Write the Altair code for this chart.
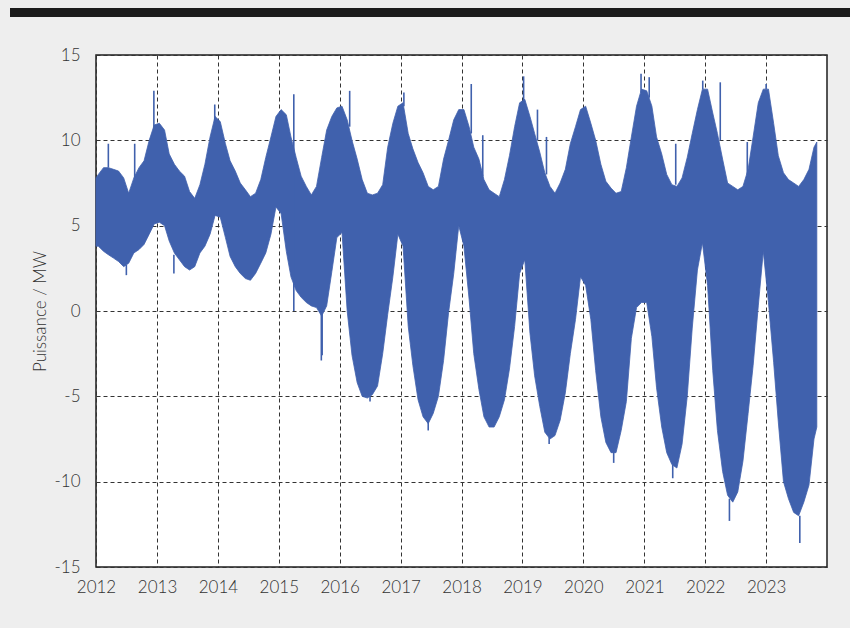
import altair as alt
import pandas as pd

# ---------------- data (MW) ----------------
# monthly envelope of the signal (value around the 15th of each month)
up_2012 = [8.0, 8.4, 8.4, 8.3, 8.2, 7.8, 6.9, 7.8, 8.4, 8.8, 10.0, 10.9]
lo_2012 = [3.8, 3.5, 3.3, 3.1, 2.9, 2.6, 2.8, 3.4, 3.6, 3.9, 4.5, 5.1]
up_2013 = [11.0, 10.6, 9.2, 8.6, 8.2, 7.9, 7.0, 6.6, 7.4, 8.6, 10.2, 11.4]
lo_2013 = [5.2, 5.0, 4.1, 3.4, 3.0, 2.6, 2.4, 2.6, 3.4, 3.8, 4.5, 5.6]
up_2014 = [11.1, 9.8, 8.8, 8.2, 7.5, 7.1, 6.7, 6.9, 7.7, 9.0, 10.2, 11.4]
lo_2014 = [5.5, 4.3, 3.2, 2.6, 2.2, 1.9, 1.8, 2.2, 2.8, 3.4, 4.5, 6.1]
up_2015 = [11.8, 11.5, 10.2, 9.0, 7.9, 7.3, 6.8, 7.3, 9.0, 10.6, 11.4, 11.9]
lo_2015 = [5.7, 3.5, 2.0, 1.2, 0.8, 0.5, 0.3, 0.2, -0.3, 0.3, 2.3, 4.3]
up_2016 = [12.0, 11.2, 10.0, 8.9, 7.7, 6.9, 6.8, 6.9, 7.4, 9.6, 11.0, 12.0]
lo_2016 = [4.6, 0.0, -2.6, -4.2, -5.0, -5.1, -4.9, -4.4, -2.5, -0.2, 2.0, 4.5]
up_2017 = [12.2, 10.4, 9.5, 8.7, 8.1, 7.3, 7.1, 7.3, 8.9, 10.0, 11.2, 11.8]
lo_2017 = [3.8, -0.9, -3.2, -5.2, -6.2, -6.6, -6.0, -5.0, -2.9, -0.1, 2.2, 5.0]
up_2018 = [11.8, 10.8, 9.6, 8.9, 7.7, 7.1, 6.9, 6.7, 7.7, 9.1, 10.8, 12.2]
lo_2018 = [3.8, 0.7, -2.5, -4.6, -6.2, -6.8, -6.8, -6.2, -5.2, -3.4, -0.9, 2.2]
up_2019 = [12.4, 11.4, 10.4, 9.3, 8.1, 7.3, 6.9, 7.5, 8.3, 9.8, 10.8, 11.8]
lo_2019 = [3.0, -1.3, -3.8, -5.6, -7.1, -7.5, -7.3, -6.4, -4.8, -2.5, -0.5, 2.0]
up_2020 = [12.0, 11.0, 10.0, 8.6, 7.6, 7.2, 6.9, 7.0, 8.4, 10.2, 12.0, 13.0]
lo_2020 = [1.5, -0.5, -3.5, -6.2, -7.7, -8.3, -8.3, -7.0, -5.3, -1.6, 0.2, 0.5]
up_2021 = [12.9, 12.0, 10.2, 9.2, 8.0, 7.4, 7.3, 7.8, 9.0, 10.4, 11.8, 13.0]
lo_2021 = [0.5, -1.5, -4.5, -6.8, -8.3, -9.0, -9.2, -7.8, -5.0, -1.0, 2.4, 4.0]
up_2022 = [13.0, 11.6, 10.4, 8.9, 7.5, 7.3, 7.1, 7.3, 8.3, 10.2, 12.2, 13.0]
lo_2022 = [1.5, -3.5, -7.0, -9.4, -10.8, -11.2, -10.6, -8.8, -6.0, -3.2, 0.3, 3.5]
up_2023 = [13.0, 11.0, 9.1, 8.1, 7.7, 7.5, 7.3, 7.7, 8.3, 9.6]
lo_2023 = [0.5, -3.0, -6.5, -10.0, -11.0, -11.8, -12.0, -11.2, -10.2, -7.5]

start_date, start_up, start_lo = "2012-01-01", 7.8, 3.8
end_date, end_up, end_lo = "2023-11-01", 9.9, -6.8

# isolated peaks / troughs sticking out of the envelope
spike_dates = ["2012-03-15", "2012-08-20", "2012-12-13", "2013-12-13", "2015-04-01",
               "2016-03-01", "2017-01-20", "2018-02-28", "2018-05-08", "2019-01-08",
               "2019-04-01", "2019-05-25", "2020-12-12", "2021-01-30", "2021-07-08",
               "2021-12-17", "2022-04-01", "2022-09-10", "2023-01-01",
               "2012-07-01", "2013-04-12", "2015-09-13", "2015-09-18", "2016-07-01",
               "2017-06-15", "2019-06-10", "2020-07-01", "2021-06-20", "2022-05-26",
               "2023-07-22"]
spike_from = [8.4, 7.8, 10.5, 11.0, 0.0,
              10.8, 12.0, 10.4, 7.9, 12.3,
              10.0, 8.0, 12.8, 12.5, 7.4,
              13.0, 10.0, 8.0, 13.0,
              2.7, 3.3, 0.2, 0.2, -5.0,
              -6.5, -7.4, -8.2, -9.0, -11.0,
              -12.0]
spike_to = [9.8, 9.8, 12.9, 12.1, 12.7,
            12.9, 12.8, 13.3, 10.3, 13.75,
            11.8, 10.2, 13.9, 13.7, 9.8,
            13.5, 13.4, 9.9, 13.3,
            2.1, 2.2, -2.9, -2.6, -5.3,
            -7.0, -7.8, -8.9, -9.8, -12.3,
            -13.6]

year_ticks = list(range(2012, 2024))
y_ticks = [-15, -10, -5, 0, 5, 10, 15]

# ---------------- tables ----------------
years_up = {2012: up_2012, 2013: up_2013, 2014: up_2014, 2015: up_2015,
            2016: up_2016, 2017: up_2017, 2018: up_2018, 2019: up_2019,
            2020: up_2020, 2021: up_2021, 2022: up_2022, 2023: up_2023}
years_lo = {2012: lo_2012, 2013: lo_2013, 2014: lo_2014, 2015: lo_2015,
            2016: lo_2016, 2017: lo_2017, 2018: lo_2018, 2019: lo_2019,
            2020: lo_2020, 2021: lo_2021, 2022: lo_2022, 2023: lo_2023}

dates, ups, los = [start_date], [start_up], [start_lo]
for yr in year_ticks:
    for i, (u, l) in enumerate(zip(years_up[yr], years_lo[yr])):
        dates.append(f"{yr}-{i + 1:02d}-15")
        ups.append(u)
        los.append(l)
dates.append(end_date)
ups.append(end_up)
los.append(end_lo)

band = pd.DataFrame({"date": dates, "upper": ups, "lower": los})
spikes = pd.DataFrame({"date": spike_dates, "a": spike_from, "b": spike_to})

BLUE = "#4061ad"
TXT = "#333333"
FONT = "Lato"

x_scale = alt.Scale(type="utc",
                    domain=[alt.DateTime(year=2012, month=1, date=1, utc=True),
                            alt.DateTime(year=2024, month=1, date=1, utc=True)])
y_scale = alt.Scale(domain=[-15, 15], nice=False)

x_axis = alt.Axis(values=[alt.DateTime(year=y, month=1, date=1, utc=True) for y in year_ticks],
                  labelExpr="utcFormat(datum.value, '%Y')",
                  title=None, ticks=False, domain=False, labelPadding=12,
                  grid=True, gridDash=[4, 3], gridColor="#333333", gridWidth=1,
                  labelFont=FONT, labelFontSize=17, labelColor=TXT, labelFontWeight=300,
                  labelFlush=False)
y_axis = alt.Axis(values=y_ticks, labelExpr="'' + datum.value",
                  title="Puissance / MW", ticks=False, domain=False, labelPadding=16,
                  grid=True, gridDash=[4, 3], gridColor="#333333", gridWidth=1,
                  labelFont=FONT, labelFontSize=17, labelColor=TXT, labelFontWeight=300,
                  titleFont=FONT, titleFontSize=17, titleColor=TXT, titleFontWeight=300,
                  titleX=-56, titleY=256, titleAngle=270, titleBaseline="middle",
                  titleAlign="center", labelFlush=False)

area = alt.Chart(band).mark_area(color=BLUE, stroke=BLUE, strokeWidth=0.8,
                                 interpolate="linear").encode(
    x=alt.X("date:T", scale=x_scale, axis=x_axis),
    y=alt.Y("lower:Q", scale=y_scale, axis=y_axis),
    y2="upper:Q",
)

spike_rules = alt.Chart(spikes).mark_rule(color=BLUE, strokeWidth=1.6).encode(
    x="date:T",
    y="a:Q",
    y2="b:Q",
)

top_bar = alt.Chart(pd.DataFrame({"k": [0]})).mark_rect(color="#1c1c1c").encode(
    x=alt.value(-86), x2=alt.value(760), y=alt.value(-47), y2=alt.value(-38)
)

chart = alt.layer(area, spike_rules, top_bar).properties(
    width=731, height=512,
    autosize=alt.AutoSizeParams(type="none"),
    padding={"left": 96, "top": 55, "right": 23, "bottom": 61},
    background="#eeeeee",
).configure_view(
    fill="white", stroke="#1e1e1e", strokeWidth=1.5
)

chart.save("out.html", embed_options={"renderer": "svg", "actions": False})
